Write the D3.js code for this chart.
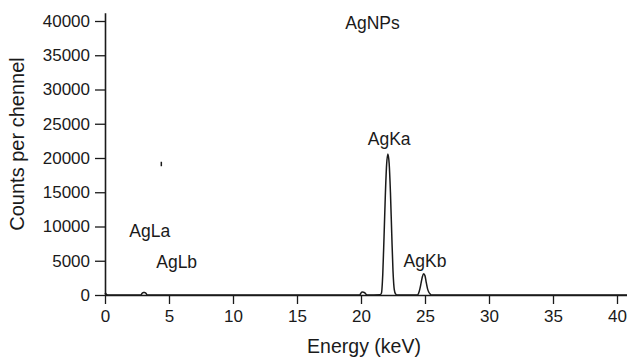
<!DOCTYPE html>
<html>
<head>
<meta charset="utf-8">
<script src="https://cdn.jsdelivr.net/npm/d3@7"></script>
<style>
  html, body { margin: 0; padding: 0; background: #fff; }
  svg { display: block; font-family: "Liberation Sans", Arial, Helvetica, sans-serif; }
</style>
</head>
<body>
<svg id="chart" width="627" height="358"></svg>
<script>
// ---- data ----
const energy = [0, 0.05, 0.1, 0.3, 2.8, 2.9, 3.0, 3.1, 3.2, 3.3, 19.9, 20.0, 20.1, 20.2, 20.3, 20.4, 20.5,
  21.5, 21.6, 21.7, 21.8, 21.9, 22.0, 22.1, 22.2, 22.3, 22.4, 22.5, 22.6, 22.7, 22.8,
  24.4, 24.5, 24.6, 24.7, 24.8, 24.9, 25.0, 25.1, 25.2, 25.3, 25.4, 25.5, 42];
const counts = [150, 250, 100, 0, 0, 250, 380, 380, 250, 0, 0, 300, 420, 400, 300, 100, 0,
  50, 300, 3000, 8500, 14500, 19000, 20600, 19200, 15000, 9000, 3500, 800, 150, 0,
  0, 250, 900, 1800, 2700, 3100, 2800, 1800, 900, 400, 150, 0, 0];
const xTicks = [0, 5, 10, 15, 20, 25, 30, 35, 40];
const yTicks = [0, 5000, 10000, 15000, 20000, 25000, 30000, 35000, 40000];
const peakLabels = ["AgNPs", "AgKa", "AgKb", "AgLa", "AgLb"];
const peakLabelEnergy = [20.9, 22.2, 25.0, 3.5, 5.6];
const peakLabelCounts = [38800, 21850, 4100, 8400, 4000];
const strayMarkEnergy = [4.4, 4.4];
const strayMarkCounts = [18800, 19450];
const xTitle = "Energy (keV)";
const yTitle = "Counts per chennel";

// ---- drawing ----
const svg = d3.select("#chart");
const x = d3.scaleLinear().domain([0, 42]).range([105, 105 + 42 * 12.8]);
const y = d3.scaleLinear().domain([0, 41200]).range([295, 295 - 41200 * 274 / 40000]);
const ink = "#1a1a1a";

// spectrum
const pts = energy.map((e, i) => [e, counts[i]]);
svg.append("path")
  .datum(pts)
  .attr("fill", "none")
  .attr("stroke", ink)
  .attr("stroke-width", 1.5)
  .attr("stroke-linejoin", "round")
  .attr("d", d3.line().x(d => x(d[0])).y(d => y(d[1])).curve(d3.curveMonotoneX));

// stray mark
svg.append("line")
  .attr("x1", x(strayMarkEnergy[0])).attr("x2", x(strayMarkEnergy[1]))
  .attr("y1", y(strayMarkCounts[0])).attr("y2", y(strayMarkCounts[1]))
  .attr("stroke", ink).attr("stroke-width", 1.5);

// axes
const xAxis = svg.append("g")
  .attr("transform", `translate(0,${y(0)})`)
  .call(d3.axisBottom(x).tickValues(xTicks).tickFormat(d3.format("d"))
    .tickSize(9).tickSizeOuter(0).tickPadding(6));
const yAxis = svg.append("g")
  .attr("transform", `translate(${x(0)},0)`)
  .call(d3.axisLeft(y).tickValues(yTicks).tickFormat(d3.format("d"))
    .tickSize(10).tickSizeOuter(0).tickPadding(5));
[xAxis, yAxis].forEach(g => {
  g.selectAll("path.domain").attr("stroke", ink).attr("stroke-width", 1.6);
  g.selectAll(".tick line").attr("stroke", ink).attr("stroke-width", 1.3);
  g.selectAll(".tick text").attr("fill", ink).style("font-size", "17px")
    .style("font-family", "'Liberation Sans', Arial, sans-serif");
});

// labels
peakLabels.forEach((t, i) => {
  svg.append("text")
    .attr("x", x(peakLabelEnergy[i]))
    .attr("y", y(peakLabelCounts[i]))
    .attr("text-anchor", "middle")
    .attr("fill", ink)
    .style("font-size", "17.5px")
    .text(t);
});

svg.append("text")
  .attr("x", 364).attr("y", 353)
  .attr("text-anchor", "middle")
  .attr("fill", ink)
  .style("font-size", "19.5px")
  .text(xTitle);

svg.append("text")
  .attr("transform", "translate(24,144) rotate(-90)")
  .attr("text-anchor", "middle")
  .attr("fill", ink)
  .style("font-size", "20px")
  .text(yTitle);
</script>
</body>
</html>
